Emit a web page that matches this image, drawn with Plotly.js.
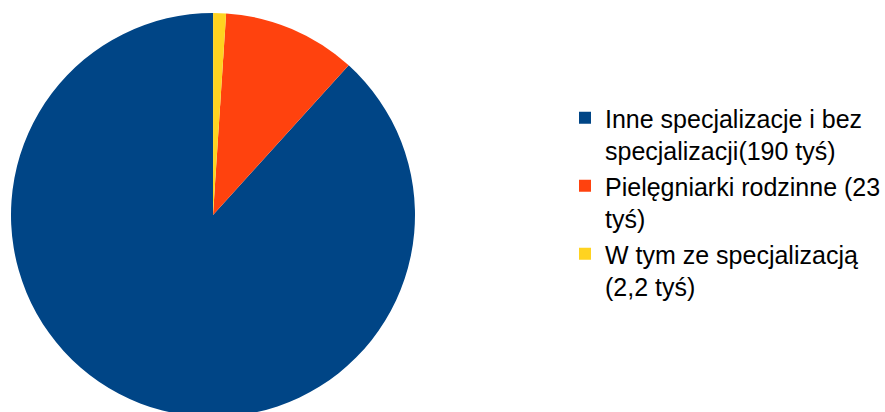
<!DOCTYPE html>
<html>
<head>
<meta charset="utf-8">
<script src="https://cdn.plot.ly/plotly-3.0.1.min.js"></script>
<style>
html,body{margin:0;padding:0;overflow:hidden;background:#fff;}
#chart{width:920px;height:430px;}
</style>
</head>
<body>
<div id="chart"></div>
<script>
const labels = [
  "Inne specjalizacje i bez<br>specjalizacji(190 tyś)",
  "Pielęgniarki rodzinne (23<br>tyś)",
  "W tym ze specjalizacją<br>(2,2 tyś)"
];
const values = [190, 23, 2.2];
const colors = ["#004586", "#ff420e", "#ffd320"];

const W = 920, H = 430, CX = 213, CY = 215, R = 202;

const trace = {
  type: "pie",
  labels: labels,
  values: values,
  sort: false,
  direction: "counterclockwise",
  rotation: 42.2,
  textinfo: "none",
  hoverinfo: "label+value",
  marker: {colors: colors, line: {width: 0}},
  domain: {x: [(CX - R) / W, (CX + R) / W], y: [(H - CY - R) / H, (H - CY + R) / H]}
};

const layout = {
  width: W,
  height: H,
  margin: {l: 0, r: 0, t: 0, b: 0},
  paper_bgcolor: "#ffffff",
  font: {family: "Liberation Sans, Arial, sans-serif", size: 25, color: "#000000"},
  showlegend: true,
  legend: {
    x: 565 / W, xanchor: "left",
    y: 1 - 95 / H, yanchor: "top",
    valign: "top",
    itemgap: 2,
    font: {family: "Liberation Sans, Arial, sans-serif", size: 25, color: "#000000"},
    bgcolor: "rgba(0,0,0,0)"
  }
};

Plotly.newPlot("chart", [trace], layout, {displayModeBar: false, staticPlot: true});
</script>
</body>
</html>
